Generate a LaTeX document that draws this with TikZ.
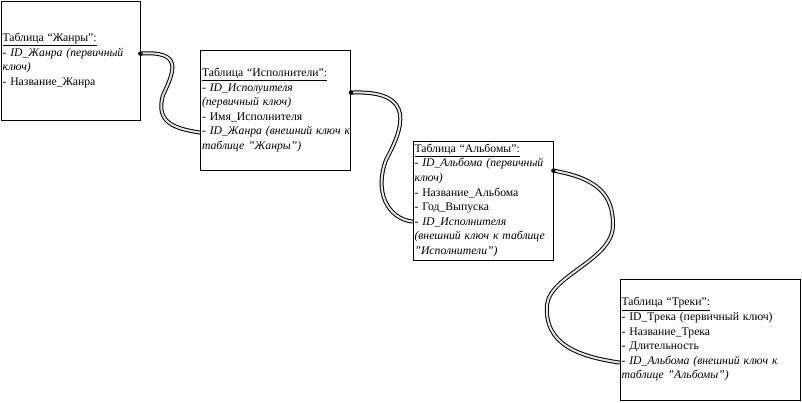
\documentclass[tikz,border=0pt]{standalone}
\usepackage{fontspec}
\setmainfont{Liberation Serif}
\newcommand{\sq}{\symbol{34}}
\begin{document}
\begin{tikzpicture}[x=1pt,y=-1pt,
  tbl/.style={draw,line width=0.8pt,inner sep=1.5pt,align=left,font=\fontsize{11.7}{14.6}\selectfont},
  conn/.style={line width=1pt,double=gray!20,double distance=2pt},
  capdot/.style={circle,fill=black,inner sep=0pt,minimum size=4.5pt}]
\useasboundingbox (0,0) rectangle (802,402);
\fill[white] (0,0) rectangle (802,402);
\node[tbl,minimum width=139pt,minimum height=119pt,text width=136pt] (g) at (70.5,60.5)
 {\underline{Таблица “Жанры”:}\\
  \mbox{- \textit{ID\_Жанра (первичный}}\\
  \textit{ключ)}\\
  - Название\_Жанра};
\node[tbl,minimum width=150pt,minimum height=120pt,text width=147pt] (a) at (275.5,110)
 {\underline{Таблица “Исполнители”:}\\
  - \textit{ID\_Исполуителя}\\
  \textit{(первичный ключ)}\\
  - Имя\_Исполнителя\\
  \mbox{- \textit{ID\_Жанра (внешний ключ к}}\\
  \textit{таблице \sq Жанры\sq)}};
\node[tbl,minimum width=140pt,minimum height=119pt,text width=137pt] (b) at (483,200.5)
 {\underline{Таблица “Альбомы”:}\\
  \mbox{- \textit{ID\_Альбома (первичный}}\\
  \textit{ключ)}\\
  - Название\_Альбома\\
  - Год\_Выпуска\\
  - \textit{ID\_Исполнителя}\\
  \mbox{\textit{(внешний ключ к таблице}}\\
  \textit{\sq Исполнители\sq)}};
\node[tbl,minimum width=180pt,minimum height=121pt,text width=177pt] (t) at (710,339.5)
 {\underline{Таблица “Треки”:}\\
  \mbox{- ID\_Трека (первичный ключ)}\\
  - Название\_Трека\\
  - Длительность\\
  \mbox{- \textit{ID\_Альбома (внешний ключ к}}\\
  \textit{таблице \sq Альбомы\sq)}};
\coordinate (s1) at ([yshift=-53pt]g.north east);
\coordinate (e1) at ([yshift=-83pt]a.north west);
\coordinate (s2) at ([yshift=-43pt]a.north east);
\coordinate (e2) at ([yshift=-81pt]b.north west);
\coordinate (s3) at ([yshift=-30pt]b.north east);
\coordinate (e3) at ([yshift=-84pt]t.north west);
\draw[conn] (s1) .. controls +(42,-3) and +(12,-25) .. (163,95) .. controls +(-8,28) and +(-25,-4) .. (e1);
\draw[conn] (s2) .. controls +(68,-3) and +(16,-30) .. (386,160) .. controls +(-12,32) and +(-25,-3) .. (e2);
\draw[conn] (s3) .. controls +(45,8) and +(0,-30) .. (613,225) .. controls +(0,35) and +(3,-30) .. (547,305) .. controls +(-3,40) and +(-40,-6) .. (e3);
\node[capdot] (d1) at (s1) {};
\node[capdot] (d2) at (s2) {};
\node[capdot] (d3) at (s3) {};
\end{tikzpicture}
\end{document}
